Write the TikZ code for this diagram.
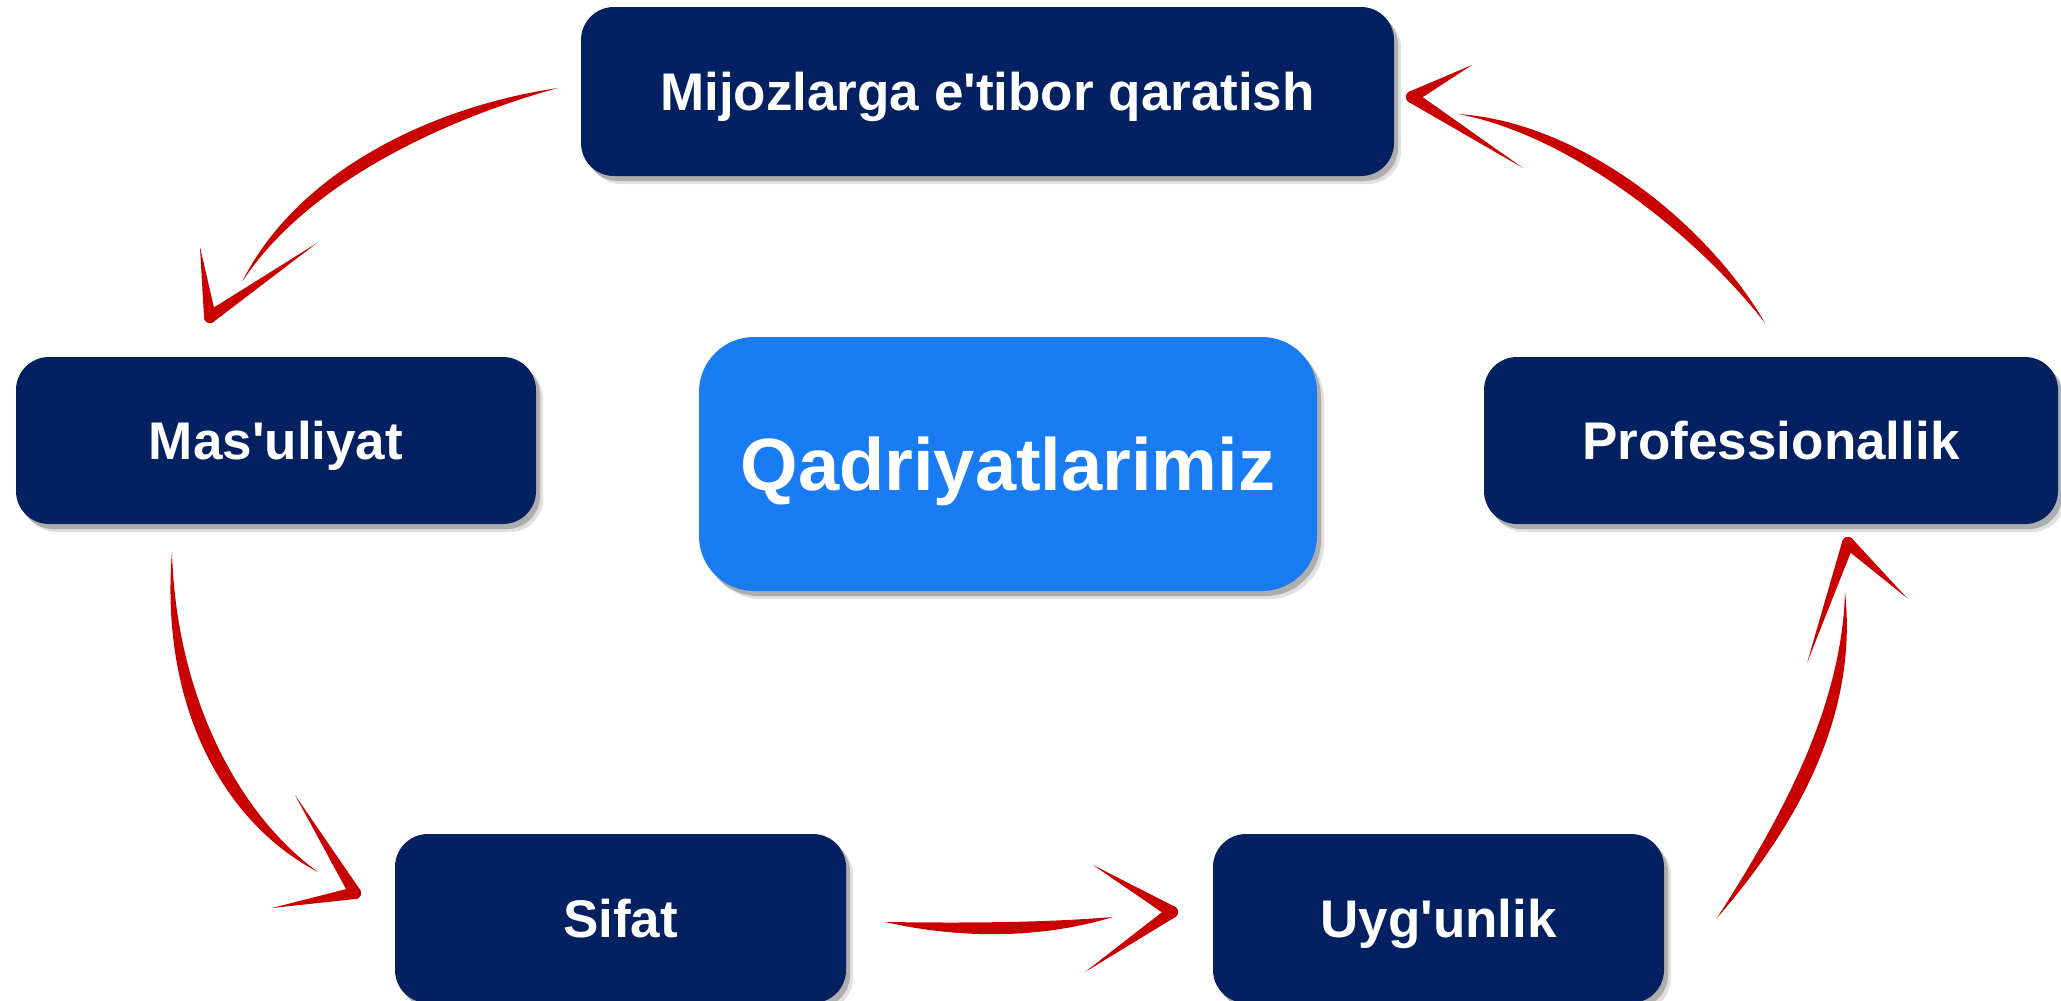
\documentclass[tikz,border=0pt]{standalone}
\usepackage{fontspec}
\setmainfont{Liberation Sans}[Ligatures=TeXOff]
\usetikzlibrary{calc,shadows}
\definecolor{navy}{RGB}{3,33,96}
\definecolor{skyblue}{RGB}{26,124,242}
\definecolor{arrowred}{RGB}{200,0,0}
\newcommand\brushshaft[5]{%
  \fill[arrowred] (#1) .. controls ($(#2)+($(#1)!#5!90:(#4)$)-(#1)$) and ($(#3)+($(#1)!#5!90:(#4)$)-(#1)$) .. (#4)
    .. controls ($(#3)-($(#1)!#5!90:(#4)$)+(#1)$) and ($(#2)-($(#1)!#5!90:(#4)$)+(#1)$) .. (#1) -- cycle;}
\newcommand\brushbarb[3]{%
  \fill[arrowred] ($(#1)!#3!90:(#2)$) -- (#2) -- ($(#1)!#3!-90:(#2)$) -- cycle;
  \fill[arrowred] (#1) circle[radius=#3];}
\tikzset{
  softshadow/.style={
    general shadow={fill=black, opacity=0.12, shadow xshift=7pt, shadow yshift=-8pt},
    general shadow={fill=black, opacity=0.22, shadow xshift=4pt, shadow yshift=-5pt}},
  valuebox/.style={draw=none, fill=navy, rounded corners=33pt, softshadow,
    text=white, font=\fontsize{53pt}{60pt}\selectfont\bfseries,
    text height=38pt, text depth=0pt, inner sep=0pt, align=center},
  titlebox/.style={valuebox, fill=skyblue, rounded corners=55pt,
    font=\fontsize{74pt}{84pt}\selectfont\bfseries, text height=53pt}
}
\begin{document}
\begin{tikzpicture}[x=1pt, y=-1pt]
\fill[white] (0,0) rectangle (2061,1001);
\useasboundingbox (0,0) rectangle (2061,1001);

\node[valuebox, minimum width=813pt, minimum height=169pt] (mijoz) at (987.5,91.5) {Mijozlarga e'tibor qaratish};
\node[valuebox, minimum width=520pt, minimum height=167pt] (masul) at (276,440.5) {Mas'uliyat};
\node[valuebox, minimum width=574pt, minimum height=167pt] (prof) at (1771,440.5) {Professionallik};
\node[valuebox, minimum width=451pt, minimum height=169pt] (sifat) at (620.5,918.5) {Sifat};
\node[valuebox, minimum width=451pt, minimum height=169pt] (uyg) at (1438.5,918.5) {Uyg'unlik};
\node[titlebox, minimum width=618pt, minimum height=254pt] (qad) at (1008,464) {Qadriyatlarimiz};

% arrow 1: Mijozlarga -> Mas'uliyat
\coordinate (s1) at (558,88);   \coordinate (c11) at (438,113);
\coordinate (c12) at (302,177); \coordinate (e1) at (242,282);
\coordinate (t1) at (210,317);  \coordinate (b11) at (200,247); \coordinate (b12) at (317,243);
% arrow 2: Professionallik -> Mijozlarga
\coordinate (s2) at (1765,323);  \coordinate (c21) at (1704,232);
\coordinate (c22) at (1578,129); \coordinate (e2) at (1458,114);
\coordinate (t2) at (1412,97);   \coordinate (b21) at (1472,65); \coordinate (b22) at (1523,168);
% arrow 3: Mas'uliyat -> Sifat
\coordinate (s3) at (172,552);  \coordinate (c31) at (168,700);
\coordinate (c32) at (230,818); \coordinate (e3) at (318,872);
\coordinate (t3) at (355,893);  \coordinate (b31) at (295,795); \coordinate (b32) at (272,908);
% arrow 4: Sifat -> Uyg'unlik
\coordinate (s4) at (885,922);   \coordinate (c41) at (960,931);
\coordinate (c42) at (1040,931); \coordinate (e4) at (1113,917);
\coordinate (t4) at (1172,912);  \coordinate (b41) at (1093,865); \coordinate (b42) at (1085,972);
% arrow 5: Uyg'unlik -> Professionallik
\coordinate (s5) at (1717,918);  \coordinate (c51) at (1789,822);
\coordinate (c52) at (1850,712); \coordinate (e5) at (1845,592);
\coordinate (t5) at (1848,543);  \coordinate (b51) at (1807,663); \coordinate (b52) at (1907,598);

\brushshaft{s1}{c11}{c12}{e1}{8pt}
\brushbarb{t1}{b11}{6pt}\brushbarb{t1}{b12}{6pt}
\brushshaft{s2}{c21}{c22}{e2}{8pt}
\brushbarb{t2}{b21}{6pt}\brushbarb{t2}{b22}{6pt}
\brushshaft{s3}{c31}{c32}{e3}{9pt}
\brushbarb{t3}{b31}{6pt}\brushbarb{t3}{b32}{6pt}
\brushshaft{s4}{c41}{c42}{e4}{8pt}
\brushbarb{t4}{b41}{6pt}\brushbarb{t4}{b42}{6pt}
\brushshaft{s5}{c51}{c52}{e5}{9pt}
\brushbarb{t5}{b51}{6pt}\brushbarb{t5}{b52}{6pt}
\end{tikzpicture}
\end{document}
